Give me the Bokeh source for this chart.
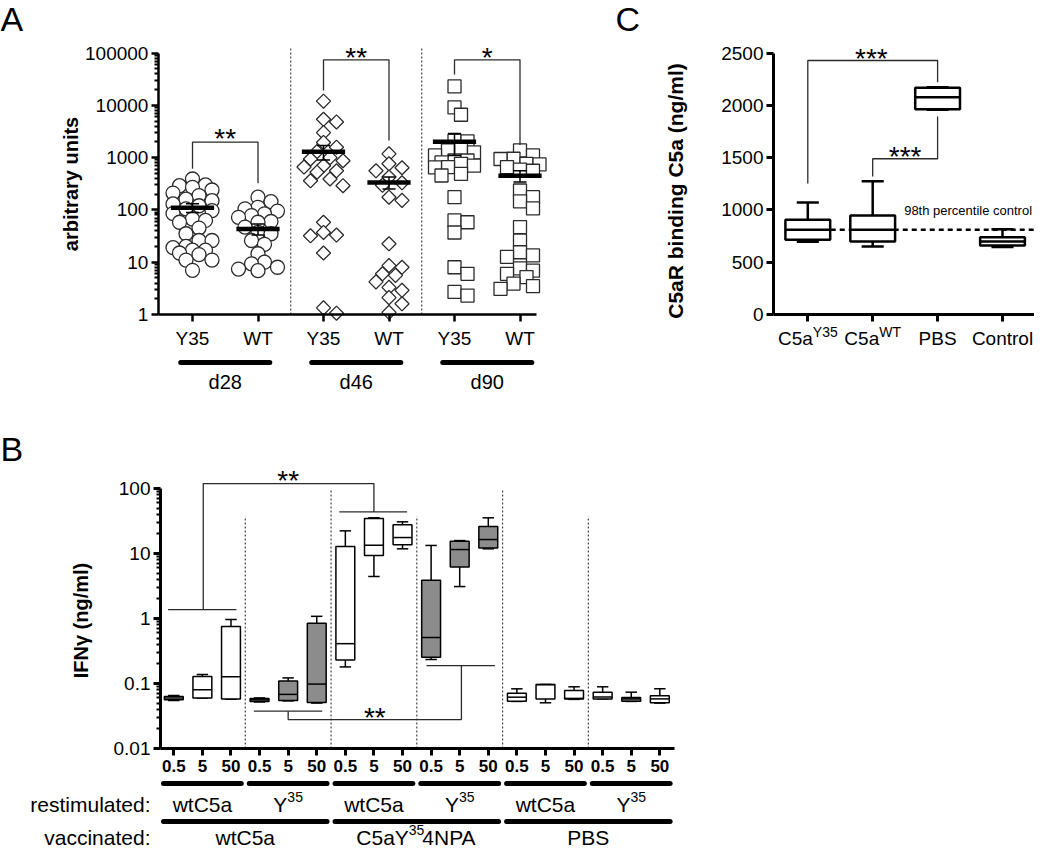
import math
from bokeh.plotting import figure
from bokeh.models import Range1d, FixedTicker
from bokeh.layouts import column, row
from bokeh.embed import file_html
from bokeh.resources import INLINE
from bokeh.core.properties import value

FONT = "Liberation Sans"
NARROW = "Liberation Sans Narrow"

# ---------------- Panel A data (arbitrary units, log scale) ----------------
a_groups = ["d28", "d46", "d90"]
a_tick_labels = ["Y35", "WT", "Y35", "WT", "Y35", "WT"]
a_d28_y35 = [390, 300, 290, 270, 240, 210, 188, 160, 150, 130, 120, 105, 97, 85, 67,
             63, 58, 45, 35, 26, 26, 20, 19, 17, 17, 15, 14, 11, 11, 7]
a_d28_wt = [175, 144, 112, 105, 95, 84, 78, 72, 60, 58, 47, 37, 35, 26, 22, 14.5,
            10, 9.3, 8, 7.4, 6.9]
a_d46_y35 = [12000, 5400, 4800, 3000, 1950, 1580, 1300, 1000, 940, 870, 700, 660, 560,
             525, 390, 360, 290, 58, 37, 33, 32, 15, 1.34, 1.06]
a_d46_wt = [1180, 760, 640, 560, 425, 330, 295, 175, 152, 22.5, 8.6, 8, 6, 5.6, 4.2,
            3.3, 2.9, 2.1, 1.6, 1.1]
a_d90_y35 = [23000, 9100, 6600, 2100, 2050, 1480, 1370, 1260, 1100, 880, 880, 810, 760,
             700, 660, 650, 490, 455, 175, 63, 58, 37, 8, 6, 2.7, 2.3]
a_d90_wt = [1370, 1100, 950, 940, 760, 740, 660, 590, 560, 235, 175, 145, 107, 47, 26,
            15.5, 13.5, 12.6, 7.6, 6.9, 6, 5.2, 3.9, 3.5, 3.1]
a_means = [110, 43, 1300, 335, 2000, 450]
a_sem_hi = [131, 54, 1700, 425, 2900, 560]
a_sem_lo = [89, 33, 900, 250, 1100, 340]
a_sig = ["**", "**", "*"]
a_sig_left = [611, 19200, 38800]
a_sig_top = [1970, 74000, 74000]
a_sig_right = [324, 2120, 1740]

# ---------------- Panel C data (ng/ml) ----------------
c_labels = ["C5a", "C5a", "PBS", "Control"]
c_sups = ["Y35", "WT", "", ""]
c_lo = [695, 650, 1958, 645]
c_q1 = [714, 698, 1964, 660]
c_med = [810, 810, 2079, 698]
c_q3 = [906, 947, 2169, 740]
c_hi = [1071, 1276, 2175, 816]
c_threshold = 810

# ---------------- Panel B data (IFN-gamma ng/ml, log scale) ----------------
b_doses = ["0.5", "5", "50"] * 6
b_restim = ["wtC5a", "Y", "wtC5a", "Y", "wtC5a", "Y"]
b_restim_sup = ["", "35", "", "35", "", "35"]
b_vacc = ["wtC5a", "C5aY", "PBS"]
b_vacc_sup = ["", "35", ""]
b_vacc_tail = ["", "4NPA", ""]
b_lo = [0.055, 0.060, 0.057, 0.052, 0.054, 0.050, 0.18, 4.43, 11.8,
        0.234, 3.1, 11.8, 0.053, 0.0505, 0.057, 0.058, 0.053, 0.050]
b_q1 = [0.056, 0.060, 0.058, 0.053, 0.0547, 0.051, 0.229, 9.3, 13.6,
        0.254, 6.2, 12.1, 0.0535, 0.0575, 0.058, 0.058, 0.0535, 0.0505]
b_med = [0.060, 0.080, 0.127, 0.056, 0.068, 0.098, 0.41, 13.4, 17.6,
         0.51, 11.5, 16.4, 0.0616, 0.096, 0.059, 0.062, 0.058, 0.058]
b_q3 = [0.063, 0.128, 0.753, 0.059, 0.109, 0.848, 12.8, 34.5, 27.6,
        3.89, 15.5, 26.0, 0.071, 0.0966, 0.078, 0.0735, 0.061, 0.065]
b_hi = [0.0653, 0.137, 0.966, 0.060, 0.122, 1.08, 22.3, 35.4, 30.7,
        13.3, 15.8, 35.4, 0.0828, 0.0966, 0.089, 0.089, 0.0735, 0.083]
b_filled = [0, 0, 0, 1, 1, 1, 0, 0, 0, 1, 1, 1, 0, 0, 0, 0, 1, 0]

GRAY = "#8c8c8c"
LINE = "#2b2b2b"


def base_fig(w, h, xr, yr, ylog=False):
    p = figure(width=w, height=h, x_range=Range1d(*xr), y_range=Range1d(*yr),
               y_axis_type="log" if ylog else "linear",
               output_backend="svg", toolbar_location=None, min_border=0,
               title=None)
    p.outline_line_color = None
    p.xgrid.visible = False
    p.ygrid.visible = False
    p.background_fill_color = "white"
    p.border_fill_color = "white"
    return p


def style_axis(ax, lw=2.5, size="19px", bold=False):
    ax.axis_line_width = lw
    ax.axis_line_color = "black"
    ax.major_tick_line_width = lw
    ax.major_tick_line_color = "black"
    ax.major_tick_out = 7
    ax.major_tick_in = 0
    ax.minor_tick_line_width = 1.8
    ax.minor_tick_line_color = "black"
    ax.minor_tick_out = 4
    ax.minor_tick_in = 0
    ax.major_label_text_font = FONT
    ax.major_label_text_font_size = size
    ax.major_label_text_color = "black"
    ax.major_label_text_font_style = "bold" if bold else "normal"
    ax.major_label_standoff = 3


def txt(p, x, y, s, size, bold=False, align="center", baseline="middle",
        angle=0.0, xo=0, yo=0, font=FONT, color="black"):
    p.text(x=[x], y=[y], text=[s], text_font=value(font),
           text_font_size=value(f"{size}px"),
           text_font_style="bold" if bold else "normal",
           text_align=align, text_baseline=baseline, angle=angle,
           x_offset=xo, y_offset=yo, text_color=color)


def swarm(vals, center, px_x, px_dec, diam=13.0, max_off=0.36):
    order = sorted(range(len(vals)), key=lambda i: -vals[i])
    step = diam * 0.5
    cand = [0.0]
    k = 1
    while k * step / px_x <= max_off:
        cand += [k * step, -k * step]
        k += 1
    placed = []
    xs = [0.0] * len(vals)
    for i in order:
        yy = math.log10(vals[i]) * px_dec
        best, bestd = 0.0, -1.0
        for c in cand:
            d = min([math.hypot(c - a, yy - b) for a, b in placed] or [1e9])
            if d >= diam * 0.75:
                best = c
                break
            if d > bestd:
                bestd, best = d, c
        placed.append((best, yy))
        xs[i] = center + best / px_x
    return xs


# ======================= Panel A =======================
AW, AH = 556, 400
A_X1, A_DX, A_Y1, A_DEC = 192.0, 65.5, 314.0, 52.3
pA = base_fig(AW, AH, (1 - A_X1 / A_DX, 1 + (AW - A_X1) / A_DX),
              (10 ** ((A_Y1 - AH) / A_DEC), 10 ** (A_Y1 / A_DEC)), ylog=True)
A_AXIS_X = 0.48


def a_below(d):
    return 10 ** (-d / A_DEC)


xa = pA.xaxis[0]
xa.fixed_location = 1
xa.bounds = (A_AXIS_X, 6.25)
xa.ticker = FixedTicker(ticks=[1, 2, 3, 4, 5, 6])
xa.major_label_overrides = {i + 1: lab for i, lab in enumerate(a_tick_labels)}
style_axis(xa)
xa.minor_tick_line_color = None
xa.major_label_standoff = 6

ya = pA.yaxis[0]
ya.fixed_location = A_AXIS_X
ya.bounds = (1, 100000)
ya.ticker = FixedTicker(ticks=[1, 10, 100, 1000, 10000, 100000],
                        minor_ticks=[k * 10 ** e for e in range(5) for k in range(2, 10)])
ya.major_label_overrides = {10 ** e: str(10 ** e) for e in range(6)}
style_axis(ya)

# dividers
pA.segment(x0=[2.5, 4.5], y0=[1, 1], x1=[2.5, 4.5], y1=[122000, 122000],
           line_color="#444444", line_width=1.2, line_dash="2 2")

a_series = [a_d28_y35, a_d28_wt, a_d46_y35, a_d46_wt, a_d90_y35, a_d90_wt]
for i, vals in enumerate(a_series):
    xs = swarm(vals, i + 1, A_DX, A_DEC)
    common = dict(fill_color="white", line_color=LINE, line_width=1.3)
    if i < 2:
        pA.scatter(xs, vals, marker="circle", size=14, **common)
    elif i < 4:
        pA.scatter(xs, vals, marker="square", size=10, angle=math.pi / 4, **common)
    else:
        pA.scatter(xs, vals, marker="square", size=13, **common)

pos = [1, 2, 3, 4, 5, 6]
pA.segment(x0=pos, y0=a_sem_lo, x1=pos, y1=a_sem_hi, line_color="black", line_width=1.5)
pA.segment(x0=[p - 0.1 for p in pos], y0=a_sem_hi, x1=[p + 0.1 for p in pos], y1=a_sem_hi,
           line_color="black", line_width=1.5)
pA.segment(x0=[p - 0.1 for p in pos], y0=a_sem_lo, x1=[p + 0.1 for p in pos], y1=a_sem_lo,
           line_color="black", line_width=1.5)
pA.segment(x0=[p - 0.33 for p in pos], y0=a_means, x1=[p + 0.33 for p in pos], y1=a_means,
           line_color="black", line_width=4.5)

# significance brackets
for g in range(3):
    l, r = 2 * g + 1, 2 * g + 2
    pA.line([l, l, r, r], [a_sig_left[g], a_sig_top[g], a_sig_top[g], a_sig_right[g]],
            line_color=LINE, line_width=1.3)
a_star_y = [3020, 104700, 104700]
for g in range(3):
    txt(pA, 2 * g + 1.5, a_star_y[g], a_sig[g], 28, yo=6)

# group bars and day labels
for g in range(3):
    c = 2 * g + 1.5
    pA.segment(x0=[c - 0.68], y0=[a_below(48)], x1=[c + 0.68], y1=[a_below(48)],
               line_color="black", line_width=5, line_cap="round")
    txt(pA, c, a_below(67), a_groups[g], 20)

txt(pA, 1 + (70 - A_X1) / A_DX, 10 ** ((A_Y1 - 183.5) / A_DEC), "arbitrary units", 20,
    bold=True, angle=math.pi / 2)
txt(pA, 1 - A_X1 / A_DX, 10 ** (A_Y1 / A_DEC), "A", 34, align="left", baseline="top", yo=-1)

# ======================= Panel C =======================
C_REF_X0 = 568
CW, CH = 478, 400
C_X1, C_DX, C_Y0, C_S = 819.3 - C_REF_X0, 64.9, 314.0, 0.10452
pC = base_fig(CW, CH, (1 - C_X1 / C_DX, 1 + (CW - C_X1) / C_DX),
              ((C_Y0 - CH) / C_S, C_Y0 / C_S))
C_AXIS_X = 1 + (785 - C_REF_X0 - C_X1) / C_DX
C_RIGHT = 1 + (CW - C_X1) / C_DX

xc = pC.xaxis[0]
xc.fixed_location = 0
xc.bounds = (C_AXIS_X, C_RIGHT)
xc.ticker = FixedTicker(ticks=[1, 2, 3, 4])
xc.major_label_overrides = {1: "", 2: "", 3: c_labels[2], 4: c_labels[3]}
style_axis(xc, lw=3)
xc.minor_tick_line_color = None
xc.major_label_standoff = 6

yc = pC.yaxis[0]
yc.fixed_location = C_AXIS_X
yc.bounds = (0, 2500)
yc.ticker = FixedTicker(ticks=[0, 500, 1000, 1500, 2000, 2500])
style_axis(yc, lw=3)
yc.minor_tick_line_color = None

# composite tick labels with superscripts
sup_split = [5, 6.5]
for i in range(2):
    y_lab = -(338 - C_Y0) / C_S
    txt(pC, i + 1, y_lab, c_labels[i], 19, align="right", xo=sup_split[i])
    txt(pC, i + 1, y_lab, c_sups[i], 14, align="left", xo=sup_split[i], yo=-7)

# threshold line
pC.segment(x0=[0.66], y0=[c_threshold], x1=[C_RIGHT], y1=[c_threshold],
           line_color="black", line_width=2.5, line_dash="5 4")
txt(pC, 3.47, 995, "98th percentile control", 13, font=NARROW + ", " + FONT)

cx = [1, 2, 3, 4]
pC.segment(x0=cx, y0=c_q3, x1=cx, y1=c_hi, line_color="black", line_width=2.5)
pC.segment(x0=cx, y0=c_q1, x1=cx, y1=c_lo, line_color="black", line_width=2.5)
pC.segment(x0=[x - 0.17 for x in cx], y0=c_hi, x1=[x + 0.17 for x in cx], y1=c_hi,
           line_color="black", line_width=2.5)
pC.segment(x0=[x - 0.17 for x in cx], y0=c_lo, x1=[x + 0.17 for x in cx], y1=c_lo,
           line_color="black", line_width=2.5)
pC.vbar(x=cx, width=0.69, bottom=c_q1, top=c_q3, fill_color="white",
        line_color="black", line_width=2.5)
pC.segment(x0=[x - 0.345 for x in cx], y0=c_med, x1=[x + 0.345 for x in cx], y1=c_med,
           line_color="black", line_width=2.5)

# significance brackets
pC.line([1, 1, 3, 3], [1253, 2430, 2430, 2222], line_color=LINE, line_width=1.3)
pC.line([2, 2, 3, 3], [1320, 1490, 1490, 1894], line_color=LINE, line_width=1.3)
txt(pC, 1.98, (C_Y0 - 52) / C_S, "***", 28, yo=6)
txt(pC, 2.5, (C_Y0 - 150) / C_S, "***", 28, yo=6)

txt(pC, 1 + (687 - C_REF_X0 - C_X1) / C_DX, (C_Y0 - 190.5) / C_S, "C5aR binding C5a (ng/ml)",
    21, bold=True, angle=math.pi / 2)
txt(pC, 1 + (627 - C_REF_X0 - C_X1) / C_DX, C_Y0 / C_S, "C", 34, align="left",
    baseline="top", yo=-1)

# ======================= Panel B =======================
B_REF_Y0 = 416
BW, BH = 700, 451
B_X1, B_DX, B_Y100, B_DEC = 173.3, 28.59, 504.0 - B_REF_Y0, 65.0
pB = base_fig(BW, BH, (1 - B_X1 / B_DX, 1 + (BW - B_X1) / B_DX),
              (10 ** (2 - (BH - B_Y100) / B_DEC), 10 ** (2 + B_Y100 / B_DEC)), ylog=True)
B_AXIS_X = 1 + (160 - B_X1) / B_DX


def b_below(d):
    return 10 ** (-2 - d / B_DEC)


xb = pB.xaxis[0]
xb.fixed_location = 0.01
xb.bounds = (B_AXIS_X, 18.51)
xb.ticker = FixedTicker(ticks=list(range(1, 19)))
xb.major_label_overrides = {i + 1: d for i, d in enumerate(b_doses)}
style_axis(xb, lw=3, size="17px", bold=True)
xb.minor_tick_line_color = None
xb.major_label_standoff = 4

yb = pB.yaxis[0]
yb.fixed_location = B_AXIS_X
yb.bounds = (0.01, 100)
yb.ticker = FixedTicker(ticks=[0.01, 0.1, 1, 10, 100],
                        minor_ticks=[k * 10.0 ** e for e in range(-2, 2) for k in range(2, 10)])
yb.major_label_overrides = {0.01: "0.01", 0.1: "0.1", 1: "1", 10: "10", 100: "100"}
style_axis(yb, lw=3)

# dividers
div_x = [3.5, 6.5, 9.5, 12.5, 15.5]
div_top = [37.5, 97, 37.5, 97, 37.5]
pB.segment(x0=div_x, y0=[0.01] * 5, x1=div_x, y1=div_top, line_color="#444444",
           line_width=1.2, line_dash="2 2")

bx = list(range(1, 19))
pB.segment(x0=bx, y0=b_q3, x1=bx, y1=b_hi, line_color="black", line_width=1.5)
pB.segment(x0=bx, y0=b_q1, x1=bx, y1=b_lo, line_color="black", line_width=1.5)
pB.segment(x0=[x - 0.2 for x in bx], y0=b_hi, x1=[x + 0.2 for x in bx], y1=b_hi,
           line_color="black", line_width=1.5)
pB.segment(x0=[x - 0.2 for x in bx], y0=b_lo, x1=[x + 0.2 for x in bx], y1=b_lo,
           line_color="black", line_width=1.5)
pB.vbar(x=bx, width=0.66, bottom=b_q1, top=b_q3,
        fill_color=[GRAY if f else "white" for f in b_filled],
        line_color="black", line_width=1.5)
pB.segment(x0=[x - 0.33 for x in bx], y0=b_med, x1=[x + 0.33 for x in bx], y1=b_med,
           line_color="black", line_width=1.5)

# significance brackets
pB.line([2.03, 2.03, 8.0, 8.0], [1.37, 119, 119, 43.6], line_color=LINE, line_width=1.3)
pB.segment(x0=[0.80, 6.79], y0=[1.37, 43.6], x1=[3.19, 9.16], y1=[1.37, 43.6],
           line_color=LINE, line_width=1.3)
pB.line([5.0, 5.0, 11.06, 11.06], [0.0375, 0.0279, 0.0279, 0.189], line_color=LINE,
        line_width=1.3)
pB.segment(x0=[3.8, 9.84], y0=[0.0375, 0.189], x1=[6.19, 12.23], y1=[0.0375, 0.189],
           line_color=LINE, line_width=1.3)
txt(pB, 5.0, 10 ** (2 - (490 - 504) / B_DEC), "**", 28, yo=6)
txt(pB, 8.03, 10 ** (2 - (726.5 - 504) / B_DEC), "**", 28, yo=6)

# restimulated row
ROW_BAR1, ROW_LAB1, ROW_BAR2, ROW_LAB2 = 35, 56, 73, 89
for g in range(6):
    c = 3 * g + 2
    pB.segment(x0=[c - 1.36], y0=[b_below(ROW_BAR1)], x1=[c + 1.36], y1=[b_below(ROW_BAR1)],
               line_color="black", line_width=5, line_cap="round")
    if b_restim_sup[g]:
        txt(pB, c, b_below(ROW_LAB1), b_restim[g], 21, align="right", xo=-0.8)
        txt(pB, c, b_below(ROW_LAB1), b_restim_sup[g], 14, align="left", xo=-0.8, yo=-8)
    else:
        txt(pB, c, b_below(ROW_LAB1), b_restim[g], 21)
# vaccinated row
for v in range(3):
    c = 6 * v + 3.5
    pB.segment(x0=[c - 2.86], y0=[b_below(ROW_BAR2)], x1=[c + 2.86], y1=[b_below(ROW_BAR2)],
               line_color="black", line_width=5, line_cap="round")
    if b_vacc_sup[v]:
        txt(pB, c, b_below(ROW_LAB2), b_vacc[v], 21, align="right", xo=-8)
        txt(pB, c, b_below(ROW_LAB2), b_vacc_sup[v], 14, align="left", xo=-8, yo=-8)
        txt(pB, c, b_below(ROW_LAB2), b_vacc_tail[v], 21, align="left", xo=5.5)
    else:
        txt(pB, c, b_below(ROW_LAB2), b_vacc[v], 21)

lab_x = 1 + (150 - B_X1) / B_DX
txt(pB, lab_x, b_below(ROW_LAB1), "restimulated:", 21, align="right")
txt(pB, lab_x, b_below(ROW_LAB2), "vaccinated:", 21, align="right")

txt(pB, 1 + (80 - B_X1) / B_DX, 10 ** (2 - (636 - 504) / B_DEC), "IFNγ (ng/ml)", 20,
    bold=True, angle=math.pi / 2)
txt(pB, 1 - B_X1 / B_DX, 10 ** (2 + B_Y100 / B_DEC), "B", 34, align="left", baseline="top",
    yo=29)

layout = column(row(pA, pC), pB)
open("out.html", "w").write(file_html(layout, INLINE))
